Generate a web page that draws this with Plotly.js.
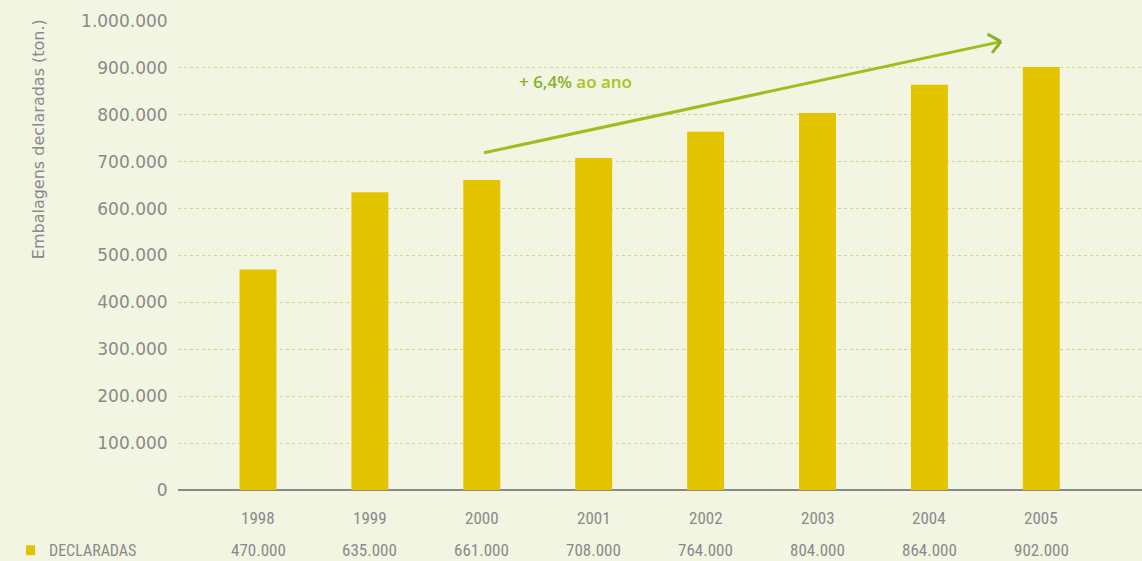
<!DOCTYPE html>
<html><head><meta charset="utf-8">
<script src="https://cdn.plot.ly/plotly-3.0.1.min.js"></script>
<style>html,body{margin:0;padding:0;background:#f2f5e2;}</style>
</head><body>
<div id="chart" style="width:1142px;height:561px;"></div>
<script>
const years = ['1998','1999','2000','2001','2002','2003','2004','2005'];
const declaradas = [470000, 635000, 661000, 708000, 764000, 804000, 864000, 902000];
const valueLabels = ['470.000','635.000','661.000','708.000','764.000','804.000','864.000','902.000'];
const seriesName = 'DECLARADAS';
const yTickVals = [0,100000,200000,300000,400000,500000,600000,700000,800000,900000,1000000];
const yTickText = ['0','100.000','200.000','300.000','400.000','500.000','600.000','700.000','800.000','900.000','1.000.000'];
const trendLabel = '<span style="color:#86b12a">+ 6,4%</span> ao ano';
const trendStart = [2.02, 719000];
const trendEnd = [6.64, 956000];
const headTop = [6.52, 972000];
const headBottom = [6.56, 932000];

const idx = years.map((_, i) => i);
const condensed = '"Liberation Sans Narrow", "Roboto Condensed", "DejaVu Sans Condensed", sans-serif';
const annotations = [];
years.forEach((y, i) => {
  annotations.push({x: i, xref: 'x', y: -0.06, yref: 'paper', text: y, showarrow: false,
    font: {family: condensed, size: 17, color: '#8a8a8a'}, yanchor: 'middle', xanchor: 'center'});
  annotations.push({x: i, xref: 'x', y: -0.128, yref: 'paper', text: valueLabels[i], showarrow: false,
    font: {family: condensed, size: 17, color: '#8a8a8a'}, yanchor: 'middle', xanchor: 'center'});
});
annotations.push({x: -0.1359, xref: 'paper', y: -0.128, yref: 'paper', text: seriesName, showarrow: false,
  xanchor: 'left', font: {family: condensed, size: 16, color: '#8a8a8a'}, yanchor: 'middle'});
annotations.push({x: -0.1452, xref: 'paper', y: 0.748, yref: 'paper', text: 'Embalagens declaradas (ton.)',
  textangle: -90, showarrow: false, xanchor: 'center', yanchor: 'middle',
  font: {family: 'DejaVu Sans', size: 16, color: '#8a8a8a'}});
annotations.push({x: 2.84, xref: 'x', y: 872000, yref: 'y', text: trendLabel, showarrow: false,
  xanchor: 'center', yanchor: 'middle',
  font: {family: '"Open Sans", sans-serif', size: 17, color: '#a9c41a', weight: 600}});

const shapes = [
  {type: 'line', xref: 'x', yref: 'y', x0: trendStart[0], y0: trendStart[1], x1: trendEnd[0], y1: trendEnd[1],
   line: {color: '#9cbf1e', width: 3}},
  {type: 'line', xref: 'x', yref: 'y', x0: headTop[0], y0: headTop[1], x1: trendEnd[0], y1: trendEnd[1],
   line: {color: '#86b12a', width: 3}},
  {type: 'line', xref: 'x', yref: 'y', x0: headBottom[0], y0: headBottom[1], x1: trendEnd[0], y1: trendEnd[1],
   line: {color: '#86b12a', width: 3}},
  {type: 'rect', xref: 'paper', yref: 'paper', x0: -0.1577, x1: -0.1483, y0: -0.139, y1: -0.118,
   fillcolor: '#e2c400', line: {width: 0}}
];

const data = [{
  type: 'bar', x: idx, y: declaradas, name: seriesName, width: 0.33,
  marker: {color: '#e2c400'}, hoverinfo: 'y'
}];

const layout = {
  width: 1142, height: 561,
  margin: {l: 178, r: 0, t: 21, b: 71},
  paper_bgcolor: '#f2f5e2', plot_bgcolor: '#f2f5e2',
  showlegend: false,
  xaxis: {range: [-0.715, 7.9], showticklabels: false, showgrid: false, zeroline: false,
    ticks: '', showline: false, fixedrange: true},
  yaxis: {range: [0, 1000000], tickvals: yTickVals, ticktext: yTickText,
    tickfont: {family: 'DejaVu Sans', size: 17, color: '#8a8a8a'},
    showgrid: true, gridcolor: '#c9d98a', griddash: 'dot', gridwidth: 1,
    zeroline: true, zerolinecolor: '#888888', zerolinewidth: 2,
    ticks: 'outside', ticklen: 6, tickcolor: 'rgba(0,0,0,0)', showline: false},
  annotations: annotations,
  shapes: shapes
};
Plotly.newPlot('chart', data, layout, {displayModeBar: false, staticPlot: true});
</script>
</body></html>
